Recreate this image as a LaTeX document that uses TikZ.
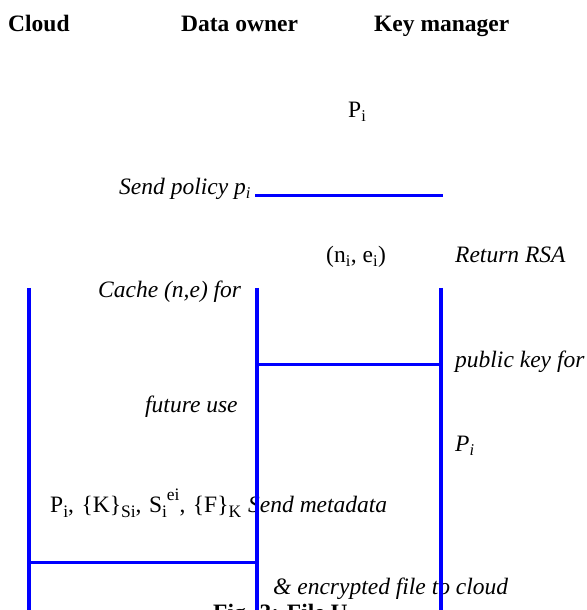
\documentclass[tikz,border=0pt]{standalone}
\usepackage{fontspec}
\setmainfont{Liberation Serif}
\newcommand\mysb[1]{\raisebox{-4.5pt}{\fontsize{17.5}{18}\selectfont #1}}
\newcommand\mysp[1]{\raisebox{12pt}{\fontsize{17.5}{18}\selectfont #1}}
\begin{document}
\begin{tikzpicture}[x=1pt,y=1pt,
  lbl/.style={inner sep=0pt,anchor=base west,font=\fontsize{23.5}{26}\selectfont},
  hdr/.style={lbl,font=\fontsize{23.5}{26}\selectfont\bfseries},
  life/.style={draw=blue,line width=3.6pt},
  msg/.style={draw=blue,line width=3pt}]
\useasboundingbox (0,0) rectangle (586,610);
% headers
\node[hdr] (cloud) at (8,578) {Cloud};
\node[hdr] (owner) at (181,578) {Data owner};
\node[hdr] (km) at (374,578) {Key manager};
% labels
\node[lbl] (pi) at (348,492) {P\textsubscript{i}};
\node[lbl] (send) at (119,415) {\textit{Send policy p\textsubscript{i}}};
\node[lbl] (ne) at (326,347) {(n\textsubscript{i}, e\textsubscript{i})};
\node[lbl] (ret) at (455,347) {\textit{Return RSA}};
\node[lbl] (cache) at (98,312) {\textit{Cache (n,e) for}};
\node[lbl] (pub) at (455,242) {\textit{public key for}};
\node[lbl] (fut) at (145,197) {\textit{future use}};
\node[lbl] (pii) at (455,158) {\textit{P\textsubscript{i}}};
\node[lbl] (meta) at (50,97) {P\mysb{i},\hspace{7.5pt}\{K\}\mysb{Si},\hspace{7.5pt}S\mysb{i}\mysp{ei},\hspace{7.5pt}\{F\}\mysb{K}};
\node[lbl] (sendm) at (248,97) {\textit{Send metadata}};
\node[lbl] (enc) at (273,15) {\textit{\& encrypted file to cloud}};
\node[hdr] (cap) at (213,-10) {Fig. 3: File U};
% lifeline ends
\coordinate (c0) at (29,322);
\coordinate (c1) at (29,-5);
\coordinate (o0) at (257,322);
\coordinate (o1) at (257,-5);
\coordinate (k0) at (441,322);
\coordinate (k1) at (441,-5);
\draw[life] (c0) -- (c1);
\draw[life] (o0) -- (o1);
\draw[life] (k0) -- (k1);
% messages
\coordinate (m1a) at (255,414);
\coordinate (m1b) at (443,414);
\draw[msg] (m1a) -- (m1b);
\coordinate (m2a) at (255,245);
\coordinate (m2b) at (441,245);
\draw[msg] (m2a) -- (m2b);
\coordinate (m3a) at (29,47);
\coordinate (m3b) at (258,47);
\draw[msg] (m3a) -- (m3b);
\end{tikzpicture}
\end{document}
